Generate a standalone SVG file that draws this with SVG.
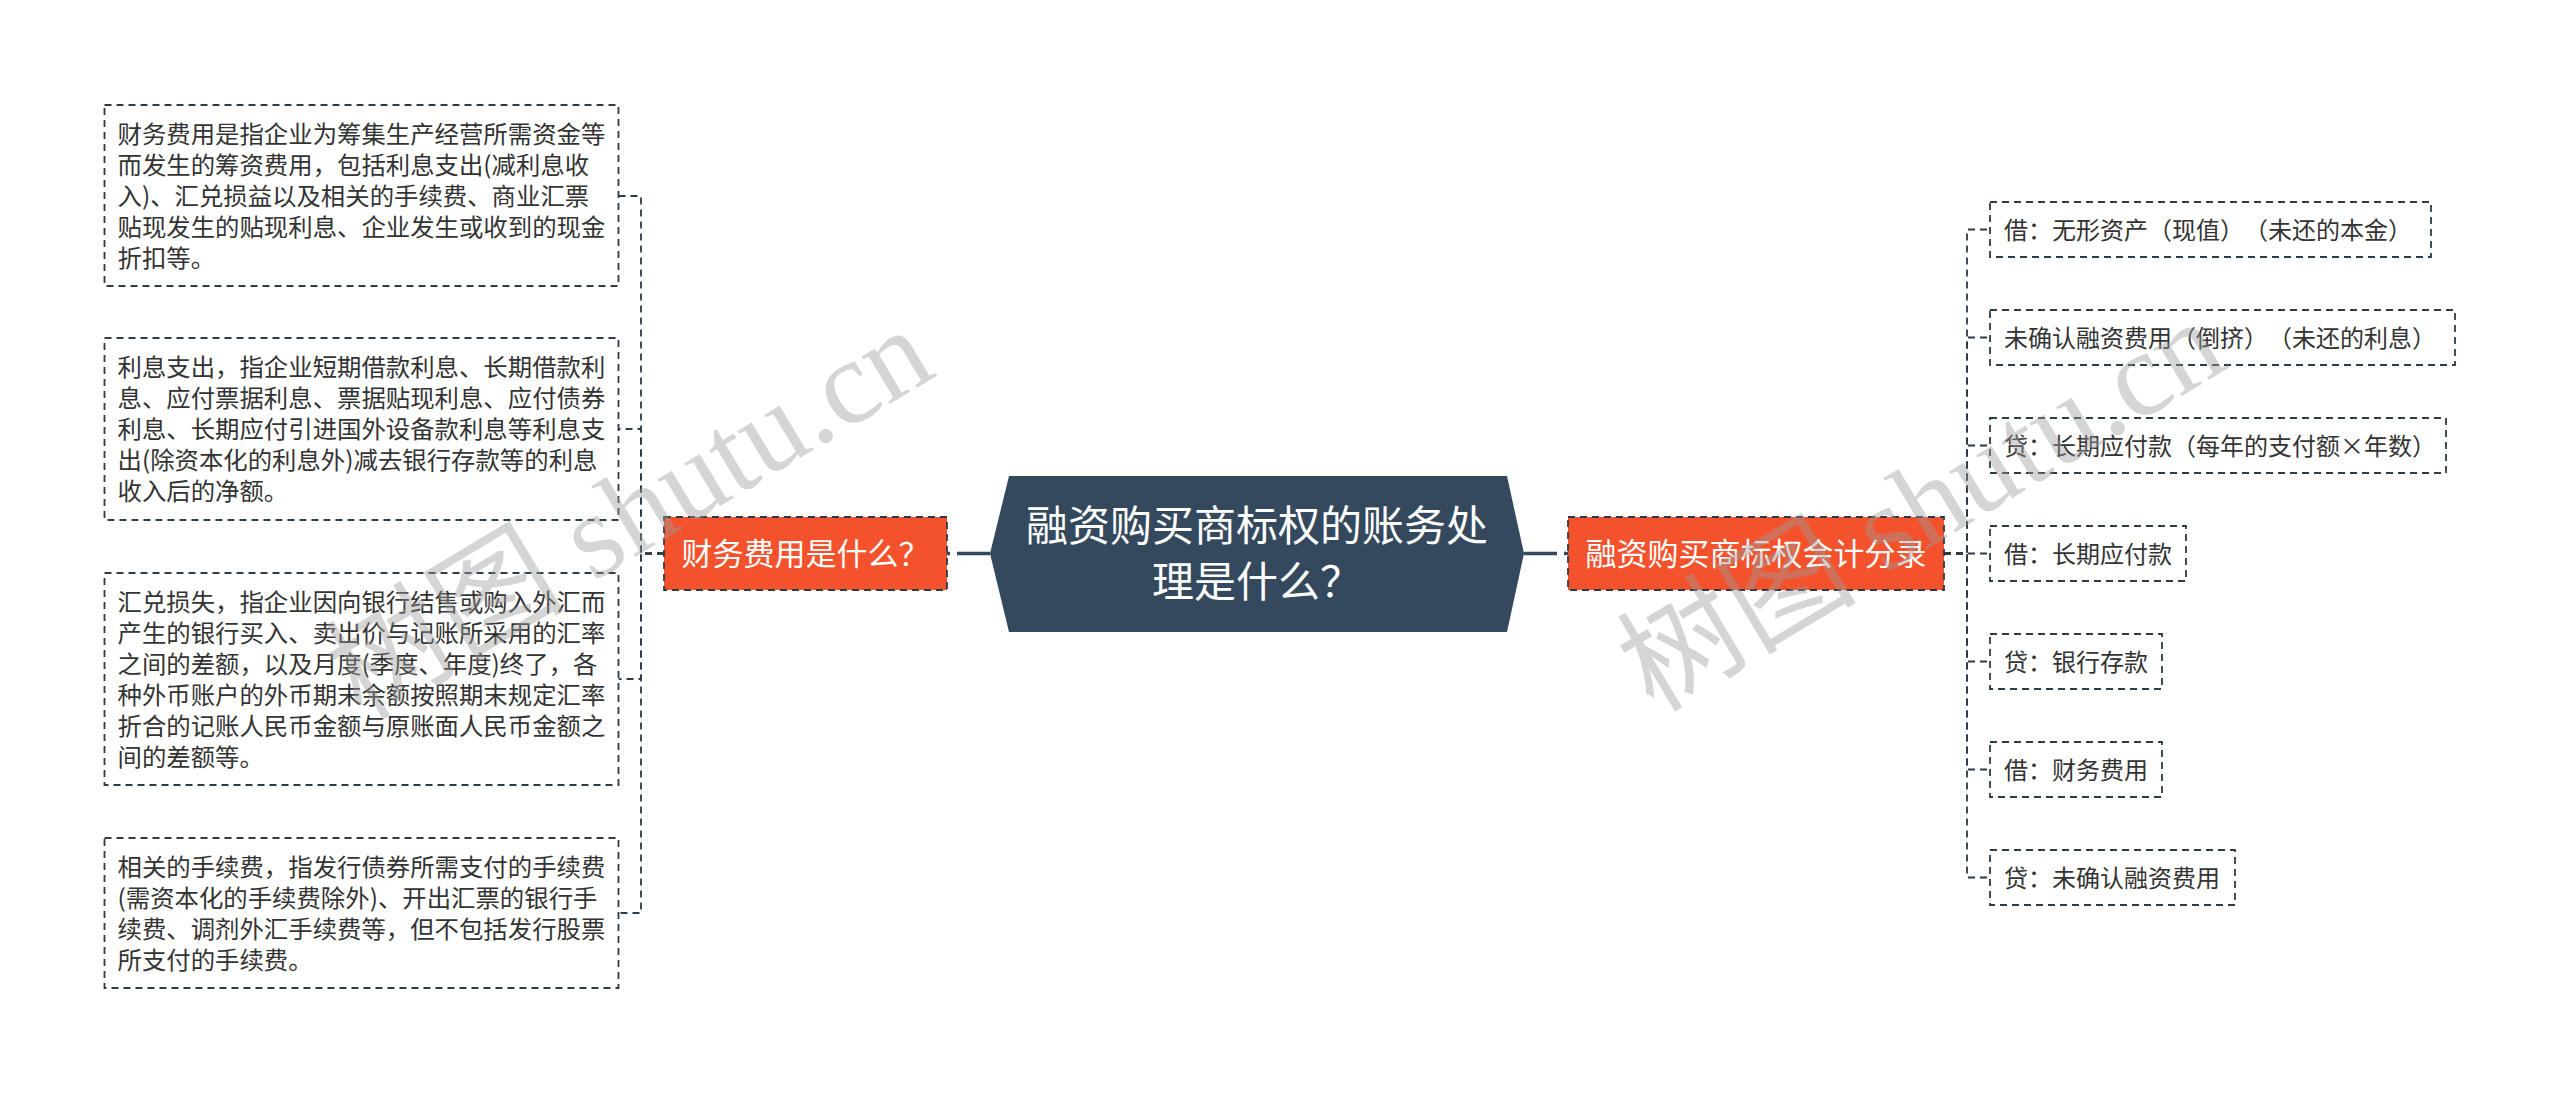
<svg xmlns="http://www.w3.org/2000/svg" width="2560" height="1093" viewBox="0 0 2560 1093">
<style>
.bg{fill:#ffffff}
.box{fill:#ffffff;stroke:#2f3b46;stroke-width:1.8;stroke-dasharray:7 5}
.orange{fill:#f4522d;stroke:#2f3b46;stroke-width:1.8;stroke-dasharray:7 5}
.hex{fill:#34495e}
.conn{fill:none;stroke:#2f3b46;stroke-width:1.8;stroke-dasharray:7 5}
.main{fill:none;stroke:#34495e;stroke-width:3.5;stroke-dasharray:33 7}
.t{font-family:"Noto Sans CJK SC","Noto Sans",sans-serif;fill:#333333;text-spacing-trim:space-all}
.lt{font-size:24.4px}
.rt{font-size:24px}
.ot{font-size:31px;fill:#ffffff;text-anchor:middle}
.ct{font-size:42px;fill:#ffffff;text-anchor:middle}
.wm{font-family:"Liberation Serif","Noto Sans CJK SC",serif;font-size:120px;fill:#9a9a9a;fill-opacity:0.42;text-anchor:middle}
</style>
<rect class="bg" x="0" y="0" width="2560" height="1093"/>

<g id="connectors">
  <path class="main" d="M990 553.5 H947"/>
  <path class="main" d="M1524 553.5 H1568"/>
  <path class="conn" d="M664 553.5 H641 V196 H618.5"/>
  <path class="conn" d="M664 553.5 H641 V429 H618.5"/>
  <path class="conn" d="M664 553.5 H641 V679 H618.5"/>
  <path class="conn" d="M664 553.5 H641 V913 H618.5"/>
  <path class="conn" d="M1944 553.5 H1967 V229.5 H1990"/>
  <path class="conn" d="M1944 553.5 H1967 V337.5 H1990"/>
  <path class="conn" d="M1944 553.5 H1967 V445.5 H1990"/>
  <path class="conn" d="M1944 553.5 H1967 V553.5 H1990"/>
  <path class="conn" d="M1944 553.5 H1967 V661.5 H1990"/>
  <path class="conn" d="M1944 553.5 H1967 V769.5 H1990"/>
  <path class="conn" d="M1944 553.5 H1967 V877.5 H1990"/>
</g>

<g id="root">
  <polygon class="hex" points="1009,476 1507,476 1524,553.5 1507,632 1009,632 990,553.5"/>
  <text class="t ct" x="1257" y="541">融资购买商标权的账务处</text>
  <text class="t ct" x="1257" y="597">理是什么？</text>
</g>

<g id="n-left">
  <rect class="orange" x="664" y="517" width="283" height="73"/>
  <text class="t ot" x="805.5" y="565">财务费用是什么？</text>
</g>

<g id="n-right">
  <rect class="orange" x="1568" y="517" width="376" height="73"/>
  <text class="t ot" x="1756" y="565">融资购买商标权会计分录</text>
</g>

<g id="l1">
  <rect class="box" x="104.5" y="105" width="514" height="181"/>
  <text class="t lt"><tspan x="117.5" y="143">财务费用是指企业为筹集生产经营所需资金等</tspan><tspan x="117.5" y="174">而发生的筹资费用，包括利息支出(减利息收</tspan><tspan x="117.5" y="205">入)、汇兑损益以及相关的手续费、商业汇票</tspan><tspan x="117.5" y="236">贴现发生的贴现利息、企业发生或收到的现金</tspan><tspan x="117.5" y="267">折扣等。</tspan></text>
</g>

<g id="l2">
  <rect class="box" x="104.5" y="338" width="514" height="182"/>
  <text class="t lt"><tspan x="117.5" y="376">利息支出，指企业短期借款利息、长期借款利</tspan><tspan x="117.5" y="407">息、应付票据利息、票据贴现利息、应付债券</tspan><tspan x="117.5" y="438">利息、长期应付引进国外设备款利息等利息支</tspan><tspan x="117.5" y="469">出(除资本化的利息外)减去银行存款等的利息</tspan><tspan x="117.5" y="500">收入后的净额。</tspan></text>
</g>

<g id="l3">
  <rect class="box" x="104.5" y="573" width="514" height="212"/>
  <text class="t lt"><tspan x="117.5" y="611">汇兑损失，指企业因向银行结售或购入外汇而</tspan><tspan x="117.5" y="642">产生的银行买入、卖出价与记账所采用的汇率</tspan><tspan x="117.5" y="673">之间的差额，以及月度(季度、年度)终了，各</tspan><tspan x="117.5" y="704">种外币账户的外币期末余额按照期末规定汇率</tspan><tspan x="117.5" y="735">折合的记账人民币金额与原账面人民币金额之</tspan><tspan x="117.5" y="766">间的差额等。</tspan></text>
</g>

<g id="l4">
  <rect class="box" x="104.5" y="838" width="514" height="150"/>
  <text class="t lt"><tspan x="117.5" y="876">相关的手续费，指发行债券所需支付的手续费</tspan><tspan x="117.5" y="907">(需资本化的手续费除外)、开出汇票的银行手</tspan><tspan x="117.5" y="938">续费、调剂外汇手续费等，但不包括发行股票</tspan><tspan x="117.5" y="969">所支付的手续费。</tspan></text>
</g>

<g id="r1">
  <rect class="box" x="1990" y="202" width="441" height="55"/>
  <text class="t rt" x="2004" y="238.5">借：无形资产（现值）（未还的本金）</text>
</g>
<g id="r2">
  <rect class="box" x="1990" y="310" width="465" height="55"/>
  <text class="t rt" x="2004" y="346.5">未确认融资费用（倒挤）（未还的利息）</text>
</g>
<g id="r3">
  <rect class="box" x="1990" y="418" width="456" height="55"/>
  <text class="t rt" x="2004" y="454.5">贷：长期应付款（每年的支付额×年数）</text>
</g>
<g id="r4">
  <rect class="box" x="1990" y="526" width="196" height="55"/>
  <text class="t rt" x="2004" y="562.5">借：长期应付款</text>
</g>
<g id="r5">
  <rect class="box" x="1990" y="634" width="172" height="55"/>
  <text class="t rt" x="2004" y="670.5">贷：银行存款</text>
</g>
<g id="r6">
  <rect class="box" x="1990" y="742" width="172" height="55"/>
  <text class="t rt" x="2004" y="778.5">借：财务费用</text>
</g>
<g id="r7">
  <rect class="box" x="1990" y="850" width="245" height="55"/>
  <text class="t rt" x="2004" y="886.5">贷：未确认融资费用</text>
</g>

<g id="watermark">
  <text class="wm" transform="translate(650,548) rotate(-31)">树图 shutu.cn</text>
  <text class="wm" transform="translate(1942,540) rotate(-31)">树图 shutu.cn</text>
</g>
</svg>
